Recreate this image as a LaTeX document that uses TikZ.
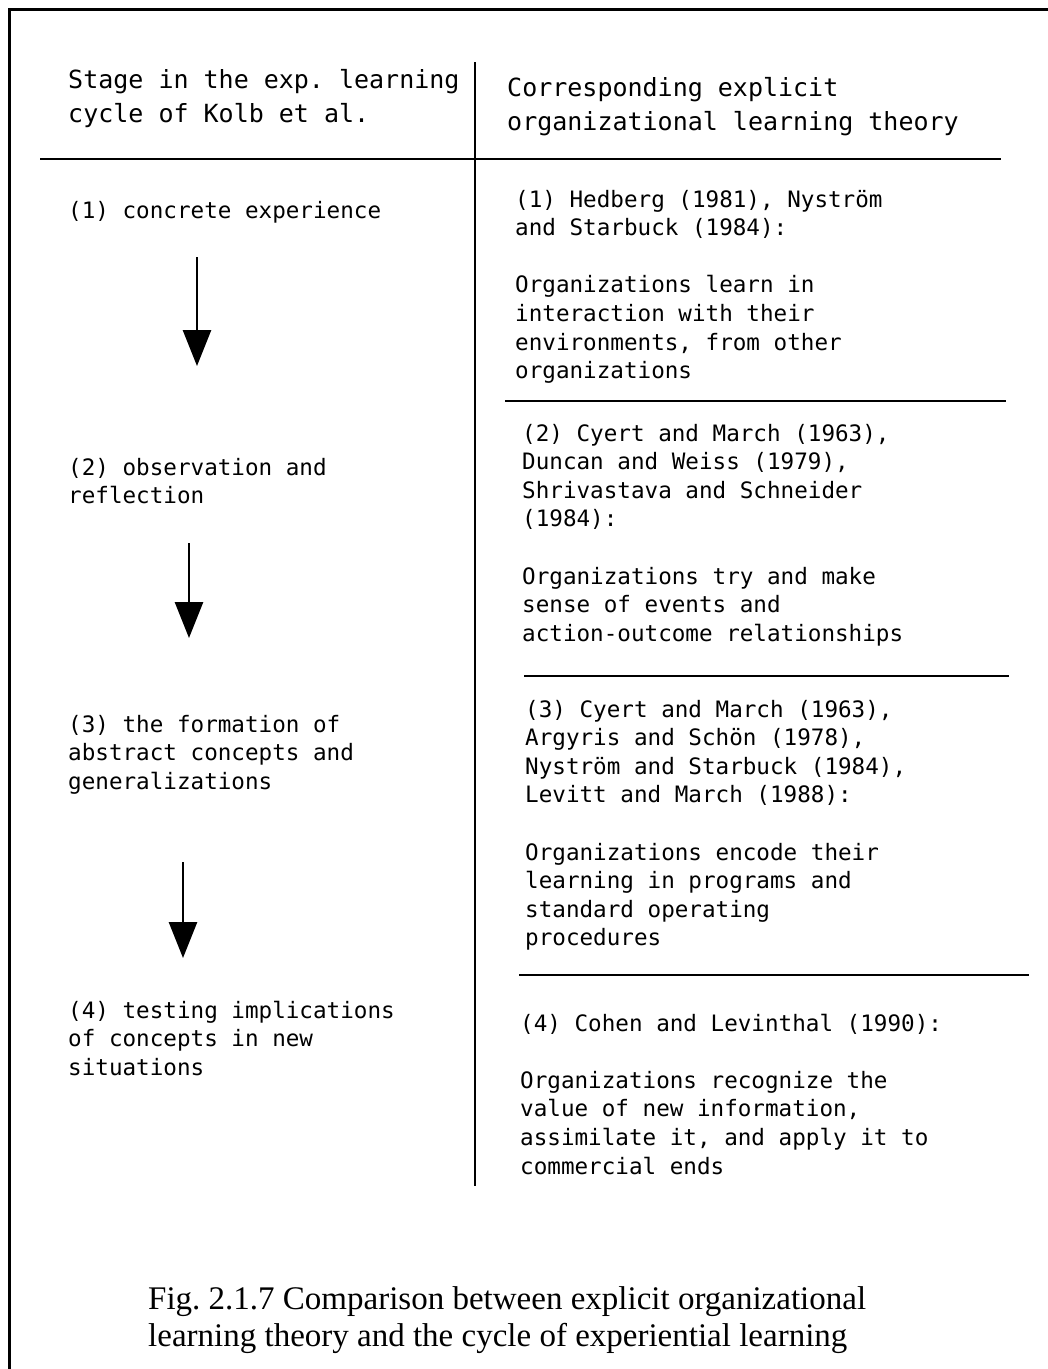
\documentclass[tikz,border=0pt]{standalone}
\usepackage{fontspec}
\setmainfont{Liberation Serif}
\newfontfamily\monofam{DejaVu Sans Mono}
\usetikzlibrary{arrows.meta}
\frenchspacing
\newcommand{\bodyfont}{\monofam\fontsize{22.6}{28.6}\selectfont}
\newcommand{\headfont}{\monofam\fontsize{25}{34}\selectfont}
\newcommand{\capfont}{\fontsize{33}{37}\selectfont}
\newcommand{\textlines}[1]{\begin{tabular}[t]{@{}l@{}}#1\end{tabular}}
\begin{document}
\begin{tikzpicture}[x=1pt,y=-1pt,
  rule/.style={line width=2.8pt},
  frame/.style={line width=3pt},
  body/.style={anchor=base west,inner sep=0pt,font=\bodyfont},
  head/.style={anchor=base west,inner sep=0pt,font=\headfont},
  flow/.style={line width=2.6pt,-{Triangle[width=28pt,length=36pt]}}]
\useasboundingbox (0,0) rectangle (1048,1369);
\fill[white] (0,0) rectangle (1048,1369);

% open outer frame
\draw[frame] (1048,9) -- (9,9) -- (9,1369);

% table rules
\draw[rule] (475,62) -- (475,1186);
\draw[rule] (40,159) -- (1001,159);
\draw[rule] (505,401) -- (1006,401);
\draw[rule] (524,676) -- (1009,676);
\draw[rule] (519,975) -- (1029,975);

% column headers
\node[head] (hl) at (68,88) {\textlines{Stage in the exp. learning\\cycle of Kolb et al.}};
\node[head] (hr) at (507,96) {\textlines{Corresponding explicit\\organizational learning theory}};

% stages of the learning cycle
\node[body] (s1) at (68,218) {\textlines{(1) concrete experience}};
\node[body] (s2) at (68,475) {\textlines{(2) observation and\\reflection}};
\node[body] (s3) at (68,732) {\textlines{(3) the formation of\\abstract concepts and\\generalizations}};
\node[body] (s4) at (68,1018) {\textlines{(4) testing implications\\of concepts in new\\situations}};

% arrows between the stages
\coordinate (a1s) at (197,257); \coordinate (a1e) at (197,366);
\coordinate (a2s) at (189,543); \coordinate (a2e) at (189,638);
\coordinate (a3s) at (183,862); \coordinate (a3e) at (183,958);
\draw[flow] (a1s) -- (a1e);
\draw[flow] (a2s) -- (a2e);
\draw[flow] (a3s) -- (a3e);

% corresponding theories
\node[body] (t1) at (515,207) {\textlines{(1) Hedberg (1981), Nyström\\and Starbuck (1984):\\ \\Organizations learn in\\interaction with their\\environments, from other\\organizations}};
\node[body] (t2) at (522,441) {\textlines{(2) Cyert and March (1963),\\Duncan and Weiss (1979),\\Shrivastava and Schneider\\(1984):\\ \\Organizations try and make\\sense of events and\\action-outcome relationships}};
\node[body] (t3) at (525,717) {\textlines{(3) Cyert and March (1963),\\Argyris and Schön (1978),\\Nyström and Starbuck (1984),\\Levitt and March (1988):\\ \\Organizations encode their\\learning in programs and\\standard operating\\procedures}};
\node[body] (t4) at (520,1031) {\textlines{(4) Cohen and Levinthal (1990):\\ \\Organizations recognize the\\value of new information,\\assimilate it, and apply it to\\commercial ends}};

% caption
\node[anchor=base west,inner sep=0pt,font=\capfont] (cap) at (148,1309) {\textlines{Fig. 2.1.7 Comparison between explicit organizational\\learning theory and the cycle of experiential learning}};
\end{tikzpicture}
\end{document}
